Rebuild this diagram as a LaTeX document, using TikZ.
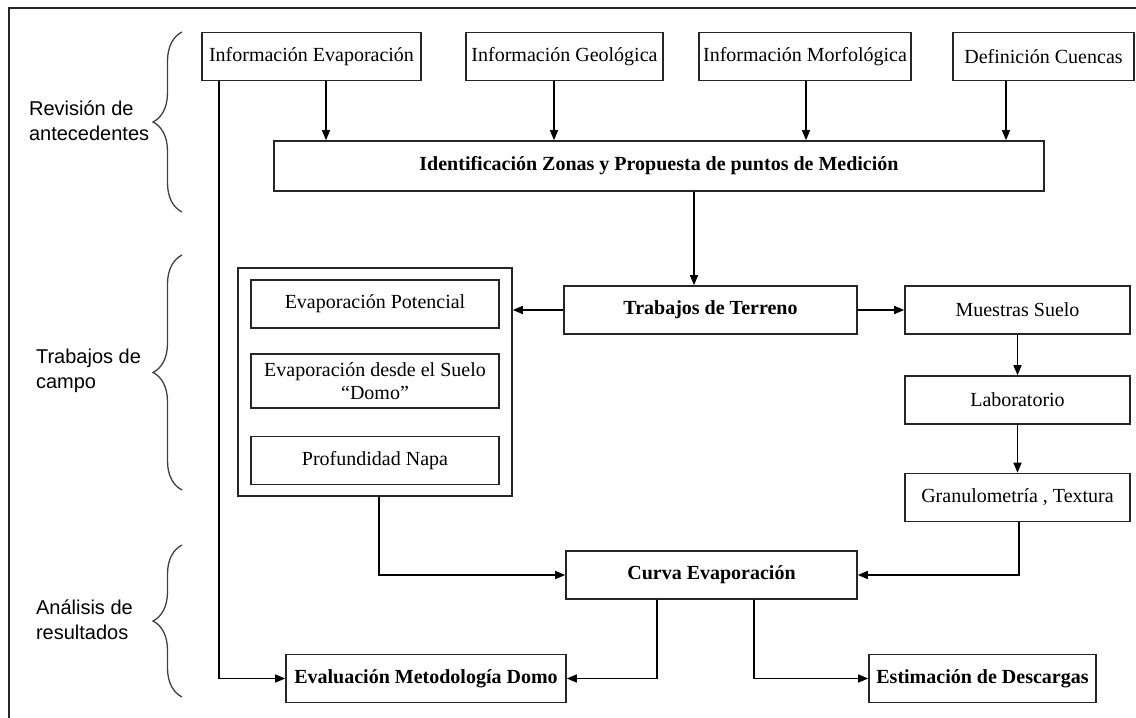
\documentclass[tikz,border=0pt]{standalone}
\usepackage{fontspec}
\setmainfont{Liberation Serif}
\setsansfont{Liberation Sans}
\usetikzlibrary{arrows.meta,calc,decorations.pathreplacing}

\tikzset{
  caja/.style={draw=black!85, line width=0.8pt, inner sep=1pt, minimum height=24pt,
    align=center, font=\fontsize{10}{11.5}\selectfont},
  cajab/.style={caja, font=\fontsize{10}{11.5}\selectfont\bfseries},
  etapa/.style={anchor=west, align=left, font=\sffamily\fontsize{10}{12.5}\selectfont},
  flecha/.style={line width=0.75pt, -{Triangle[length=5pt,width=4pt]}},
  llave/.style={draw=black!75, line width=0.65pt, decorate,
    decoration={brace, amplitude=14.5pt}}
}

\begin{document}
\begin{tikzpicture}[x=0.5pt,y=-0.5pt]
	\useasboundingbox (0,0) rectangle (1136,718);
	\draw[line width=0.8pt, black!85] (1136,8) -- (9,8) -- (9,718);

	\node[etapa] (lblrev) at (22,120.5) {Revisión de\\antecedentes};
	\node[etapa] (lblcampo) at (29,371) {Trabajos de\\campo};
	\node[etapa] (lblanal) at (29,620) {Análisis de\\resultados};
	\draw[llave] (182,212) -- (182,32);
	\draw[llave] (182,490) -- (182,255);
	\draw[llave] (182,697) -- (182,545);

	\node[caja, minimum width=109.5pt] (infoevap) at (311.5,56.5) {Información Evaporación};
	\node[caja, minimum width=98.5pt] (infogeo) at (564.5,56.5) {Información Geológica};
	\node[caja, minimum width=106pt] (infomorf) at (805,56.5) {Información Morfológica};
	\node[caja, minimum width=90.5pt] (defcuen) at (1043.5,56.5) {Definición Cuencas};
	\node[cajab, minimum width=385pt, minimum height=25pt] (ident) at (659,166) {Identificación Zonas y Propuesta de puntos de Medición};

	\node[cajab, minimum width=146.5pt] (terreno) at (710.5,310) {Trabajos de Terreno};
	\node[caja, minimum width=137pt, minimum height=114pt] (grupo) at (375,382) {};
	\node[caja, minimum width=124pt] (evpot) at (375,304) {Evaporación Potencial};
	\node[caja, minimum width=124pt, minimum height=27pt] (evsuelo) at (375,381) {Evaporación desde el Suelo\\“Domo”};
	\node[caja, minimum width=124pt] (napa) at (375,460.5) {Profundidad Napa};
	\node[caja, minimum width=112.5pt] (muestras) at (1017.5,310) {Muestras Suelo};
	\node[caja, minimum width=112.5pt] (lab) at (1017.5,400) {Laboratorio};
	\node[caja, minimum width=112.5pt] (granulo) at (1017.5,497.5) {Granulometría , Textura};

	\node[cajab, minimum width=145.5pt] (curva) at (711.5,575) {Curva Evaporación};
	\node[cajab, minimum width=140pt] (evalua) at (426,678.5) {Evaluación Metodología Domo};
	\node[cajab, minimum width=113.5pt] (estima) at (982.5,678.5) {Estimación de Descargas};

	\draw[flecha] ($(infoevap.south)+(14.5,0)$) coordinate (a1) -- (a1 |- ident.north);
	\draw[flecha] ($(infogeo.south)+(-10.5,0)$) coordinate (a2) -- (a2 |- ident.north);
	\draw[flecha] ($(infomorf.south)+(1,0)$) coordinate (a3) -- (a3 |- ident.north);
	\draw[flecha] ($(defcuen.south)+(-37.5,0)$) coordinate (a4) -- (a4 |- ident.north);
	\draw[flecha] ($(ident.south)+(35,0)$) coordinate (a5) -- (a5 |- terreno.north);
	\draw[flecha] (terreno.west) -- (terreno.west -| grupo.east);
	\draw[flecha] (terreno.east) -- (muestras.west);
	\draw[flecha] (muestras) -- (lab);
	\draw[flecha] (lab) -- (granulo);
	\draw[flecha] ($(granulo.south)+(1.5,0)$) |- (curva.east);
	\draw[flecha] ($(grupo.south)+(4,0)$) |- (curva.west);
	\draw[flecha] ($(infoevap.south west)+(18,0)$) |- (evalua.west);
	\draw[flecha] ($(curva.south)+(-54.5,0)$) |- (evalua.east);
	\draw[flecha] ($(curva.south)+(42.5,0)$) |- (estima.west);
\end{tikzpicture}
\end{document}
